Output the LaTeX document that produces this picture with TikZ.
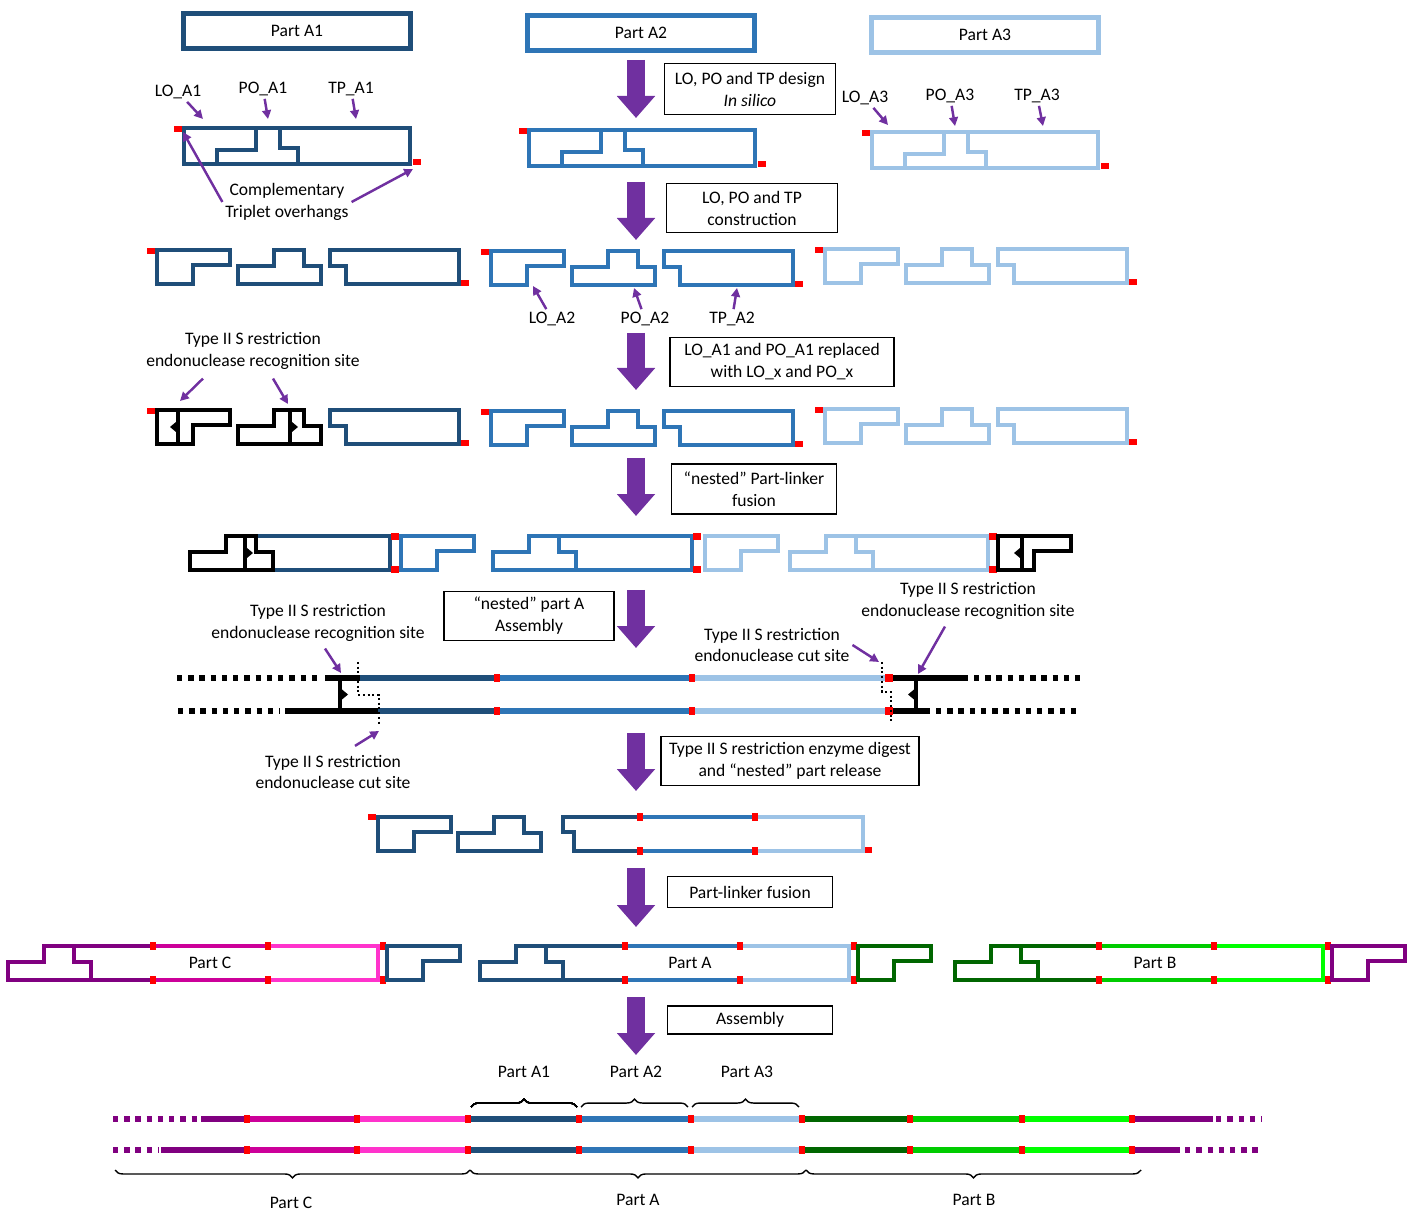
\documentclass[tikz,border=0pt]{standalone}
\usepackage{fontspec}
\setmainfont{Carlito}
\usetikzlibrary{arrows.meta,decorations.pathreplacing}
\definecolor{dkblue}{RGB}{31,78,121}
\definecolor{midblue}{RGB}{46,117,182}
\definecolor{ltblue}{RGB}{157,195,230}
\definecolor{arrowpurp}{RGB}{112,48,160}
\definecolor{cpurp}{RGB}{128,0,128}
\definecolor{cmag}{RGB}{204,0,153}
\definecolor{cpink}{RGB}{255,51,204}
\definecolor{dkgreen}{RGB}{0,102,0}
\definecolor{cgreen}{RGB}{0,204,0}
\definecolor{bgreen}{RGB}{0,255,0}
\tikzset{
  part/.style={line width=2.7pt},
  strand/.style={line width=2.9pt},
  ends/.style={line width=3pt, dash pattern=on 3pt off 3.4pt},
  cutline/.style={line width=1.1pt, dash pattern=on 1.1pt off 1.6pt},
  ptr/.style={arrowpurp, line width=1.4pt, -{Triangle[length=5pt,width=5pt]}},
  bigarrow/.style={arrowpurp, line width=0.36cm, -{Triangle[length=0.44cm,width=0.74cm]}},
  stepbox/.style={draw, line width=0.8pt, align=center, inner sep=1pt},
  partbox/.style={line width=2.7pt, minimum width=4.54cm, minimum height=0.7cm},
  lbl/.style={align=center, inner sep=1.5pt},
  brace/.style={decorate, decoration={brace, amplitude=4.5pt}, line width=0.8pt},
}
% whole part with LO, PO and TP outlines, top left at (#1,#2)
\newcommand{\fullpart}[3]{%
  \begin{scope}[shift={(#1,#2)}, #3, part]
    \draw (0,0) rectangle (226,36);
    \draw (33,36) -- (33,22) -- (72,22) -- (72,0);
    \draw (96,0) -- (96,20) -- (114,20) -- (114,36);
    \fill[red] (-10,-2) rectangle (-2,4);
    \fill[red] (229,31) rectangle (237,37);
  \end{scope}}
\newcommand{\lopiece}[3]{\draw[part,#3] (#1,#2) -- ++(73,0) -- ++(0,15) -- ++(-37,0) -- ++(0,19) -- ++(-36,0) -- cycle;}
\newcommand{\popiece}[3]{\draw[part,#3] (#1,#2+34) -- ++(0,-18) -- ++(36,0) -- ++(0,-16) -- ++(30,0) -- ++(0,16) -- ++(17,0) -- ++(0,18) -- cycle;}
\newcommand{\tppiece}[3]{\draw[part,#3] (#1,#2) -- ++(129,0) -- ++(0,34) -- ++(-113,0) -- ++(0,-18) -- ++(-16,0) -- cycle;}
\newcommand{\piecesrow}[5]{%
  \lopiece{#1}{#2}{#3}
  \popiece{#1+81}{#2}{#4}
  \tppiece{#1+173}{#2}{#5}
  \fill[red] (#1-10,#2-2) rectangle (#1-2,#2+4);
  \fill[red] (#1+304,#2+30) rectangle (#1+312,#2+36);}
% recognition site: bar and small head
\newcommand{\recsite}[4]{%
  \draw[line width=2.8pt] (#1,#2) -- (#1,#3);
  \fill ({#1+(#4)*2},{(#2+#3)/2-5}) -- ({#1+(#4)*8},{(#2+#3)/2}) -- ({#1+(#4)*2},{(#2+#3)/2+5}) -- cycle;}
\newcommand{\potp}[5]{%
  \draw[part,#5] (#1+66,#3) -- (#2,#3) -- (#2,#3+34) -- (#1+83,#3+34);
  \popiece{#1}{#3}{#4}}
\newcommand{\jn}[3]{%
  \fill[red] (#1-3,#2-4) rectangle (#1+3,#2+4);
  \fill[red] (#1-3,#3-4) rectangle (#1+3,#3+4);}
\newcommand{\redpair}[2]{%
  \fill[red] (#1,#2-3) rectangle (#1+8,#2+4);
  \fill[red] (#1,#2+30) rectangle (#1+8,#2+37);}
% part with linker fused: x0, junctions, end, colours
\newcommand{\linked}[8]{%
  \popiece{#1}{946}{#5}
  \draw[part,#5] (#1+66,946) -- (#2,946) (#1+83,980) -- (#2,980);
  \draw[part,#6] (#2,946) -- (#3,946) (#2,980) -- (#3,980);
  \draw[part,#7] (#3,946) -- (#4,946) -- (#4,980) -- (#3,980);
  \jn{#2}{946}{980} \jn{#3}{946}{980}
  \fill[red] (#4+2,942) rectangle (#4+8,950);
  \fill[red] (#4+2,976) rectangle (#4+8,984);
  \lopiece{#4+9}{946}{#8}}

\begin{document}
\begin{tikzpicture}[x=0.02cm, y=-0.02cm, every node/.style={font=\fontsize{10pt}{12.5pt}\selectfont}]
  \useasboundingbox (0,0) rectangle (1417,1212);
  % parts
  \node[partbox, draw=dkblue] (pA1) at (297,31) {Part A1};
  \node[partbox, draw=midblue] (pA2) at (641,33) {Part A2};
  \node[partbox, draw=ltblue] (pA3) at (985,35) {Part A3};
  % process arrows
  \foreach \i/\ya/\yb in {1/60/118, 2/182/240, 3/333/390, 4/458/516, 5/590/648, 6/733/791, 7/868/927, 8/997/1055} {
    \coordinate (bs\i) at (636,\ya);
    \coordinate (be\i) at (636,\yb);
    \draw[bigarrow] (bs\i) -- (be\i);
  }
  \node[stepbox, minimum width=3.42cm, minimum height=1.02cm] (box1) at (750,89) {LO, PO and TP design\\\textit{In silico}};
  \node[stepbox, minimum width=3.42cm, minimum height=0.98cm] (box2) at (752,208) {LO, PO and TP\\construction};
  \node[stepbox, minimum width=4.48cm, minimum height=0.98cm] (box3) at (782,362) {LO\_A1 and PO\_A1 replaced\\with LO\_x and PO\_x};
  \node[stepbox, minimum width=3.3cm, minimum height=1.0cm] (box4) at (754,489) {“nested” Part-linker\\fusion};
  \node[stepbox, minimum width=3.4cm, minimum height=0.98cm] (box5) at (529,616) {“nested” part A\\Assembly};
  \node[stepbox, minimum width=5.16cm, minimum height=0.98cm] (box6) at (790,761) {Type II S restriction enzyme digest\\and “nested” part release};
  \node[stepbox, minimum width=3.3cm, minimum height=0.62cm] (box7) at (750,892) {Part-linker fusion};
  \node[stepbox, minimum width=3.3cm, minimum height=0.56cm] (box8) at (750,1020) {Assembly};

  % in silico design
  \fullpart{184}{128}{dkblue}
  \fullpart{529}{130}{midblue}
  \fullpart{872}{132}{ltblue}
  \node[lbl] (loA1) at (178,92) {LO\_A1};
  \node[lbl] (poA1) at (263,89) {PO\_A1};
  \node[lbl] (tpA1) at (351,89) {TP\_A1};
  \node[lbl] (comp) at (287,202) {Complementary\\Triplet overhangs};
  \node[lbl] (loA3) at (865,98) {LO\_A3};
  \node[lbl] (poA3) at (950,96) {PO\_A3};
  \node[lbl] (tpA3) at (1037,96) {TP\_A3};
  \coordinate (tloA1) at (203,119);
  \coordinate (tpoA1) at (268,119);
  \coordinate (ttpA1) at (356,119);
  \coordinate (tohL) at (183,132);
  \coordinate (tohR) at (413,169);
  \coordinate (tloA3) at (888,125);
  \coordinate (tpoA3) at (955,126);
  \coordinate (ttpA3) at (1043,126);
  \draw[ptr] (loA1) -- (tloA1);
  \draw[ptr] (poA1) -- (tpoA1);
  \draw[ptr] (tpA1) -- (ttpA1);
  \draw[ptr] (comp.west) -- (tohL);
  \draw[ptr] (comp.east) -- (tohR);
  \draw[ptr] (loA3) -- (tloA3);
  \draw[ptr] (poA3) -- (tpoA3);
  \draw[ptr] (tpA3) -- (ttpA3);

  % construction
  \piecesrow{157}{250}{dkblue}{dkblue}{dkblue}
  \piecesrow{491}{251}{midblue}{midblue}{midblue}
  \piecesrow{825}{249}{ltblue}{ltblue}{ltblue}
  \node[lbl] (loA2) at (552,319) {LO\_A2};
  \node[lbl] (poA2) at (645,319) {PO\_A2};
  \node[lbl] (tpA2) at (732,319) {TP\_A2};
  \coordinate (tloA2) at (533,286);
  \coordinate (tpoA2) at (634,288);
  \coordinate (ttpA2) at (737,288);
  \draw[ptr] (loA2) -- (tloA2);
  \draw[ptr] (poA2) -- (tpoA2);
  \draw[ptr] (tpA2) -- (ttpA2);

  % LO_x and PO_x
  \piecesrow{157}{410}{black}{black}{dkblue}
  \recsite{178}{410}{444}{-1}
  \recsite{290}{410}{444}{1}
  \piecesrow{491}{411}{midblue}{midblue}{midblue}
  \piecesrow{825}{409}{ltblue}{ltblue}{ltblue}
  \node[lbl] (recA) at (253,351) {Type II S restriction\\endonuclease recognition site};
  \coordinate (trecA1) at (180,401);
  \coordinate (trecA2) at (288,404);
  \draw[ptr] (recA.south) ++(-50,6) -- (trecA1);
  \draw[ptr] (recA.south) ++(20,6) -- (trecA2);

  % nested part-linker fusion
  \potp{190}{390}{536}{black}{dkblue}
  \recsite{245}{536}{570}{1}
  \redpair{391}{536}
  \lopiece{401}{536}{midblue}
  \potp{493}{692}{536}{midblue}{midblue}
  \redpair{693}{536}
  \lopiece{705}{536}{ltblue}
  \potp{790}{988}{536}{ltblue}{ltblue}
  \redpair{989}{536}
  \lopiece{998}{536}{black}
  \recsite{1022}{536}{570}{-1}

  % nested assembly
  \draw[ends] (177,678) -- (322,678);
  \draw[ends] (178,711) -- (280,711);
  \draw[strand, line width=3.2pt] (325,678) -- (360,678);
  \draw[strand, line width=3.2pt] (285,711) -- (378,711);
  \draw[strand,dkblue] (360,678) -- (497,678);
  \draw[strand,dkblue] (378,711) -- (497,711);
  \draw[strand,midblue] (497,678) -- (692,678) (497,711) -- (692,711);
  \draw[strand,ltblue] (692,678) -- (885,678) (692,711) -- (885,711);
  \jn{497}{678}{711}
  \jn{692}{678}{711}
  \fill[red] (885,674) rectangle (893,682);
  \fill[red] (885,707) rectangle (893,715);
  \draw[strand, line width=3.2pt] (893,678) -- (968,678);
  \draw[strand, line width=3.2pt] (893,711) -- (930,711);
  \draw[ends] (974,678) -- (1080,678);
  \draw[ends] (936,711) -- (1080,711);
  \recsite{340}{678}{711}{1}
  \recsite{916}{678}{711}{-1}
  \draw[cutline] (358,662) -- (358,695) -- (379,695) -- (379,726);
  \draw[cutline] (882,662) -- (882,692) -- (891,692) -- (891,724);
  \node[lbl] (recB) at (318,623) {Type II S restriction\\endonuclease recognition site};
  \node[lbl] (recC) at (968,601) {Type II S restriction\\endonuclease recognition site};
  \node[lbl] (cutA) at (772,645) {Type II S restriction\\endonuclease cut site};
  \node[lbl] (cutB) at (333,772) {Type II S restriction\\endonuclease cut site};
  \coordinate (trecB) at (341,673);
  \coordinate (trecC) at (918,674);
  \coordinate (tcutA) at (879,662);
  \coordinate (tcutB) at (379,731);
  \draw[ptr] (recB.south) ++(7,4) -- (trecB);
  \draw[ptr] (recC.south) ++(-23,4) -- (trecC);
  \draw[ptr] (cutA.east) -- (tcutA);
  \draw[ptr] (cutB.north) ++(22,-6) -- (tcutB);

  % digest and release
  \lopiece{378}{817}{dkblue}
  \fill[red] (368,814) rectangle (376,820);
  \popiece{458}{817}{dkblue}
  \draw[part,dkblue] (640,817) -- (563,817) -- (563,832) -- (574,832) -- (574,851) -- (640,851);
  \draw[part,midblue] (640,817) -- (755,817) (640,851) -- (755,851);
  \draw[part,ltblue] (755,817) -- (863,817) -- (863,851) -- (755,851);
  \jn{640}{817}{851}
  \jn{755}{817}{851}
  \fill[red] (865,847) rectangle (872,853);

  % part-linker fusion
  \linked{8}{153}{268}{378}{cpurp}{cmag}{cpink}{dkblue}
  \linked{480}{625}{740}{849}{dkblue}{midblue}{ltblue}{dkgreen}
  \linked{955}{1099}{1214}{1323}{dkgreen}{cgreen}{bgreen}{cpurp}
  \node (lC) at (210,963) {Part C};
  \node (lA) at (690,963) {Part A};
  \node (lB) at (1155,963) {Part B};

  % assembly
  \foreach \xa/\xb/\c in {201/247/cpurp, 247/357/cmag, 357/468/cpink, 468/579/dkblue, 579/691/midblue, 691/802/ltblue, 802/910/dkgreen, 910/1022/cgreen, 1022/1132/bgreen, 1132/1213/cpurp}
    \draw[strand,\c] (\xa,1119) -- (\xb,1119);
  \foreach \xa/\xb/\c in {161/247/cpurp, 247/357/cmag, 357/468/cpink, 468/579/dkblue, 579/691/midblue, 691/802/ltblue, 802/910/dkgreen, 910/1022/cgreen, 1022/1132/bgreen, 1132/1180/cpurp}
    \draw[strand,\c] (\xa,1150) -- (\xb,1150);
  \draw[ends,cpurp] (113,1119) -- (199,1119);
  \draw[ends,cpurp] (113,1150) -- (159,1150);
  \draw[ends,cpurp] (1216,1119) -- (1262,1119);
  \draw[ends,cpurp] (1185,1150) -- (1262,1150);
  \foreach \x in {247,357,468,579,691,802,910,1022,1132}
    \jn{\x}{1119}{1150}
  \draw[brace] (471,1107) -- (577,1107);
  \draw[brace] (581,1107) -- (688,1107);
  \draw[brace] (692,1107) -- (799,1107);
  \draw[brace] (470,1170) -- (115,1170);
  \draw[brace] (806,1170) -- (470,1170);
  \draw[brace] (1141,1170) -- (806,1170);
  \node (bA1) at (524,1072) {Part A1};
  \node (bA2) at (636,1072) {Part A2};
  \node (bA3) at (747,1072) {Part A3};
  \node (bC) at (291,1203) {Part C};
  \node (bA) at (638,1200) {Part A};
  \node (bB) at (974,1200) {Part B};
\end{tikzpicture}
\end{document}
